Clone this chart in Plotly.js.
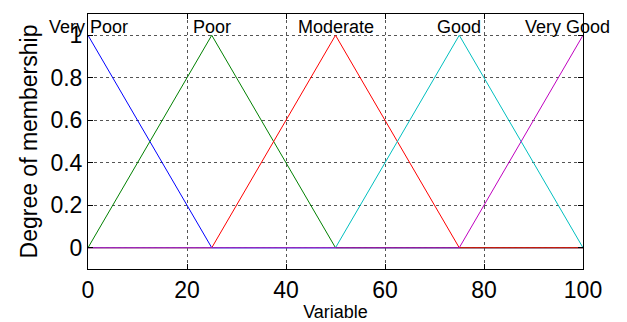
<!DOCTYPE html>
<html><head><meta charset="utf-8">
<script src="https://cdn.plot.ly/plotly-3.0.1.min.js"></script>
<style>html,body{margin:0;padding:0;background:#fff}#c{width:627px;height:322px}</style>
</head><body><div id="c"></div>
<script>
const xs = [0, 25, 50, 75, 100];
const veryPoor = [1, 0, 0, 0, 0];
const poor = [0, 1, 0, 0, 0];
const moderate = [0, 0, 1, 0, 0];
const good = [0, 0, 0, 1, 0];
const veryGood = [0, 0, 0, 0, 1];
const mfNames = ['Very Poor', 'Poor', 'Moderate', 'Good', 'Very Good'];
const labelX = [0, 25, 50, 75, 96.8];
const xTicks = [0, 20, 40, 60, 80, 100];
const yTicks = [0, 0.2, 0.4, 0.6, 0.8, 1];
const yTickText = ['0', '0.2', '0.4', '0.6', '0.8', '1'];

const series = [veryPoor, poor, moderate, good, veryGood];
const colors = ['#0000ff', '#008000', '#ff0000', '#00bfbf', '#bf00bf'];
const traces = series.map((s, i) => ({
  x: xs, y: s, type: 'scatter', mode: 'lines', name: mfNames[i],
  line: {color: colors[i], width: 1}, hoverinfo: 'skip'
}));

const font = 'Arial, "Liberation Sans", sans-serif';
const annotations = mfNames.map((n, i) => ({
  x: labelX[i], y: 1.04, xref: 'x', yref: 'y', text: n, showarrow: false,
  xanchor: 'center', yanchor: 'middle', font: {family: font, size: 18, color: '#000'}
}));

const layout = {
  width: 627, height: 322,
  margin: {l: 88, r: 44, t: 14, b: 53},
  paper_bgcolor: '#fff', plot_bgcolor: '#fff',
  showlegend: false,
  font: {family: font, color: '#000'},
  xaxis: {
    range: [0, 100], tickvals: xTicks, ticks: 'inside', ticklen: 5, tickcolor: '#000',
    showline: true, linecolor: '#000', linewidth: 1, mirror: 'ticks',
    showgrid: true, gridcolor: '#555', griddash: 'dot', gridwidth: 1, zeroline: false,
    tickfont: {family: font, size: 23, color: '#000'},
    title: {text: 'Variable', font: {family: font, size: 18, color: '#000'}, standoff: 7}
  },
  yaxis: {
    range: [-0.1, 1.1], tickvals: yTicks, ticktext: yTickText, ticks: 'inside', ticklen: 5, tickcolor: '#000',
    showline: true, linecolor: '#000', linewidth: 1, mirror: 'ticks',
    showgrid: true, gridcolor: '#555', griddash: 'dot', gridwidth: 1, zeroline: false,
    tickfont: {family: font, size: 23, color: '#000'},
    title: {text: 'Degree of membership', font: {family: font, size: 23, color: '#000'}, standoff: 6}
  },
  annotations: annotations
};
Plotly.newPlot('c', traces, layout, {staticPlot: true, displayModeBar: false});
</script>
</body></html>
